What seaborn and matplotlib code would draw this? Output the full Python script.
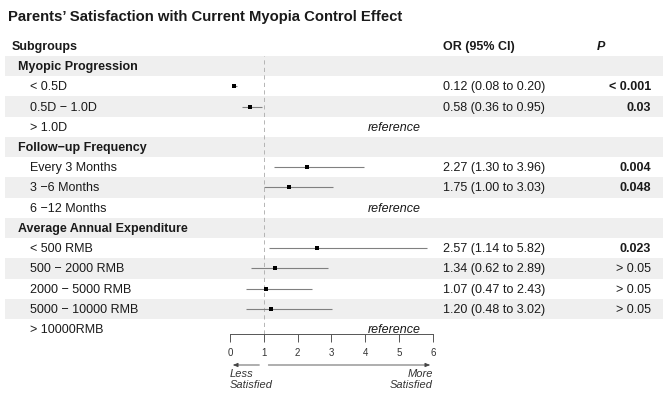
import matplotlib
matplotlib.use("Agg")
import matplotlib.pyplot as plt
import matplotlib.transforms as mtransforms
import seaborn as sns
import numpy as np
import pandas as pd

# rows of the table, top to bottom
labels = ["Myopic Progression", "< 0.5D", "0.5D \u2212 1.0D", "> 1.0D",
          "Follow\u2212up Frequency", "Every 3 Months", "3 \u22126 Months", "6 \u221212 Months",
          "Average Annual Expenditure", "< 500 RMB", "500 \u2212 2000 RMB", "2000 \u2212 5000 RMB",
          "5000 \u2212 10000 RMB", "> 10000RMB"]
is_group = [True, False, False, False, True, False, False, False,
            True, False, False, False, False, False]
odds = [np.nan, 0.12, 0.58, np.nan, np.nan, 2.27, 1.75, np.nan,
        np.nan, 2.57, 1.34, 1.07, 1.20, np.nan]
ci_low = [np.nan, 0.08, 0.36, np.nan, np.nan, 1.30, 1.00, np.nan,
          np.nan, 1.14, 0.62, 0.47, 0.48, np.nan]
ci_high = [np.nan, 0.20, 0.95, np.nan, np.nan, 3.96, 3.03, np.nan,
           np.nan, 5.82, 2.89, 2.43, 3.02, np.nan]
or_text = ["", "0.12 (0.08 to 0.20)", "0.58 (0.36 to 0.95)", "", "",
           "2.27 (1.30 to 3.96)", "1.75 (1.00 to 3.03)", "", "",
           "2.57 (1.14 to 5.82)", "1.34 (0.62 to 2.89)", "1.07 (0.47 to 2.43)",
           "1.20 (0.48 to 3.02)", ""]
p_text = ["", "< 0.001", "0.03", "", "", "0.004", "0.048", "", "",
          "0.023", "> 0.05", "> 0.05", "> 0.05", ""]
p_bold = [False, True, True, False, False, True, True, False, False,
          True, False, False, False, False]
is_ref = [False, False, False, True, False, False, False, True,
          False, False, False, False, False, True]
x_ticks = [0, 1, 2, 3, 4, 5, 6]

df = pd.DataFrame({"row": np.arange(len(labels)), "label": labels, "odds": odds,
                   "low": ci_low, "high": ci_high})

sns.set_style("white")
plt.rcParams["font.family"] = ["Liberation Sans", "DejaVu Sans"]

W, H = 669, 406
fig = plt.figure(figsize=(W / 100, H / 100), dpi=100)
ax = fig.add_axes([230 / W, 1 - 335 / H, (433 - 230) / W, (335 - 57) / H])
ax.patch.set_alpha(0)

ax.set_xlim(0, 6)
ax.set_ylim(13.235, -0.494)

txt = mtransforms.blended_transform_factory(fig.transFigure, ax.transData)

# alternating row shading
for i in range(len(labels)):
    if i % 2 == 0:
        ax.add_patch(plt.Rectangle((5 / W, i - 0.5), (663 - 5) / W, 1.0, transform=txt,
                                   facecolor="#efefef", edgecolor="none", clip_on=False, zorder=0))

ax.axvline(1, color="#aaaaaa", lw=0.6, ls=(0, (5, 4)), zorder=1)

d = df.dropna()
ax.hlines(d["row"], d["low"], d["high"], color="#808080", lw=0.8, zorder=2)
sns.scatterplot(data=d, x="odds", y="row", marker="s", s=6, color="black",
                edgecolor="black", linewidth=0, ax=ax, zorder=3, legend=False)

tc = "#1a1a1a"
fs = 9
ax.text(12 / W, -1, "Subgroups", transform=txt, va="center", ha="left",
        fontsize=fs, fontweight="bold", color=tc)
ax.text(443 / W, -1, "OR (95% CI)", transform=txt, va="center", ha="left",
        fontsize=fs, fontweight="bold", color=tc)
ax.text(597 / W, -1, "P", transform=txt, va="center", ha="left",
        fontsize=fs, fontweight="bold", fontstyle="italic", color=tc)

for i, lab in enumerate(labels):
    if is_group[i]:
        ax.text(18 / W, i, lab, transform=txt, va="center", ha="left",
                fontsize=fs, fontweight="bold", color=tc)
    else:
        ax.text(30 / W, i, lab, transform=txt, va="center", ha="left",
                fontsize=fs, color=tc)
    if or_text[i]:
        ax.text(443 / W, i, or_text[i], transform=txt, va="center", ha="left",
                fontsize=fs, color=tc)
    if p_text[i]:
        ax.text(651 / W, i, p_text[i], transform=txt, va="center", ha="right",
                fontsize=fs, color=tc, fontweight="bold" if p_bold[i] else "normal")
    if is_ref[i]:
        ax.text(421 / W, i, "reference", transform=txt, va="center", ha="right",
                fontsize=fs, fontstyle="italic", color=tc)

# x axis
for s in ["top", "left", "right"]:
    ax.spines[s].set_visible(False)
ax.spines["bottom"].set_color("#555555")
ax.spines["bottom"].set_linewidth(0.7)
ax.set_yticks([])
ax.set_xticks(x_ticks)
ax.tick_params(axis="x", direction="out", length=6, width=0.7, color="#555555",
               labelsize=7, labelcolor="#333333", pad=3, bottom=True)
ax.set_xlabel("")
ax.set_ylabel("")

# direction arrows
arr = mtransforms.blended_transform_factory(ax.transData, fig.transFigure)
ya = 1 - 366 / H
ax.annotate("", xy=(0, ya), xytext=(0.95, ya), xycoords=arr, textcoords=arr,
            arrowprops=dict(arrowstyle="-|>,head_length=0.3,head_width=0.12",
                            color="#444444", lw=0.6), annotation_clip=False)
ax.annotate("", xy=(6, ya), xytext=(1.05, ya), xycoords=arr, textcoords=arr,
            arrowprops=dict(arrowstyle="-|>,head_length=0.3,head_width=0.12",
                            color="#444444", lw=0.6), annotation_clip=False)
ax.text(0, 1 - 369 / H, "Less\nSatisfied", transform=arr, ha="left", va="top",
        fontsize=8, fontstyle="italic", color="#333333", linespacing=1.15)
ax.text(6, 1 - 369 / H, "More\nSatisfied", transform=arr, ha="right", va="top",
        fontsize=8, fontstyle="italic", color="#333333", linespacing=1.15,
        multialignment="right")

fig.text(8 / W, 1 - 17 / H, "Parents\u2019 Satisfaction with Current Myopia Control Effect",
         ha="left", va="center", fontsize=10.7, fontweight="bold", color=tc)

fig.savefig("out.png", dpi=100)
